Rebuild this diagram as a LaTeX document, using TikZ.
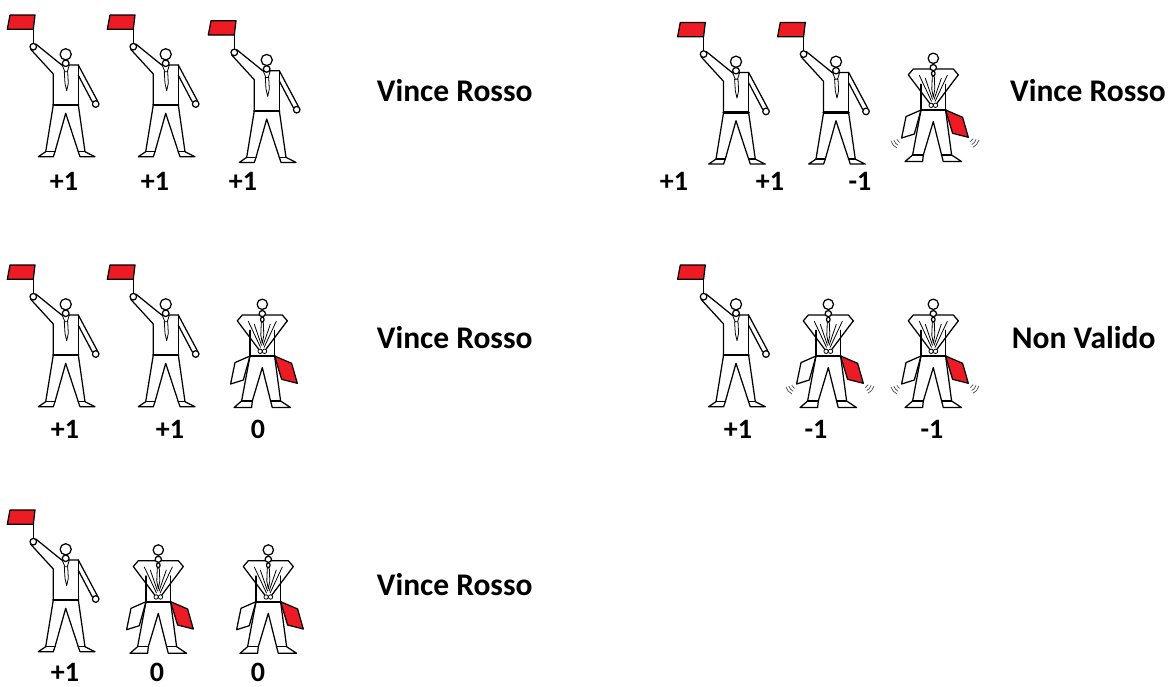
\documentclass[tikz,border=0pt]{standalone}
\usepackage{fontspec}
\setmainfont{Carlito}
\definecolor{flagred}{RGB}{237,28,36}
\tikzset{
  fig/.style={line width=1.25pt, line join=round, line cap=round},
  waist/.style={line width=2.4pt},
  thinline/.style={line width=0.8pt},
  flagup/.pic={
    \begin{scope}[fig]
    % flag
    \draw[thinline] (-32.4,-25) -- (-32.4,-11);
    \draw[fill=flagred] (-55.7,-39.3) -- (-30.7,-39.3) -- (-32.4,-25) -- (-58.4,-25) -- cycle;
    \draw[fill=white] (-32.4,-7.6) circle (3.3);
    % arms and torso
    \draw (-29.8,-10.2) -- (-4,10.7) -- (12.6,10.7) -- (31.6,46.3);
    \draw (-35,-5) -- (-12.4,19.7) -- (-12.4,50.7);
    \draw (12.6,10.7) -- (12.6,50.7);
    \draw (12.6,21) -- (26.6,47.6);
    \draw[fill=white] (30,49.7) circle (3.3);
    \draw[waist] (-12.4,50.7) -- (12.6,50.7);
    % legs and feet
    \draw (-12.4,50.7) -- (-20,97.4) -- (-27.4,102.4) -- (-12.4,102.4) -- (-10.7,97.4) -- (0,59)
          -- (12.6,97.4) -- (14.3,102.4) -- (29.3,102.4) -- (19.3,97.4) -- (12.6,50.7);
    \draw (-20,97.4) -- (-10.7,97.4);
    \draw (12.6,97.4) -- (19.3,97.4);
    % head, neck, tie
    \draw[fill=white] (0,0) circle (5.6);
    \draw[fill=white] (0,9) ellipse (3.4 and 3.2);
    \draw[thinline] (-3.6,10.7) -- (-0.8,17.4);
    \draw[thinline] (3.6,10.7) -- (1.6,17.4);
    \draw[thinline] (-1.4,17.4) -- (2,17.4) -- (2.6,29) -- (1,36.4) -- (-0.7,29) -- cycle;
    \end{scope}
  },
  flagdown/.pic={
    \begin{scope}[fig]
    % flags
    \draw[fill=white] (-27.3,58.3) -- (-12.3,51.7) -- (-19,75.7) -- (-31.7,79.7) -- cycle;
    \draw[fill=flagred] (12.3,51.7) -- (29.3,59) -- (35,79) -- (19.3,75) -- cycle;
    % shoulders and arms
    \draw (-25,16.5) -- (-20,10.7) -- (20,10.7) -- (25,16.5);
    \draw (-25,16.5) -- (-3.2,45.5);
    \draw (25,16.5) -- (3.2,45.5);
    \draw[thinline] (-14,17) -- (-1.8,43);
    \draw[thinline] (-8,20) -- (-0.8,41);
    \draw[thinline] (14,17) -- (1.8,43);
    \draw[thinline] (8,20) -- (0.8,41);
    % torso
    \draw (-12.3,26) -- (-12.3,51.7);
    \draw (12.3,26) -- (12.3,51.7);
    % tie
    \draw[thinline] (-1,18) -- (1,18) -- (1.5,31) -- (0,39) -- (-1.5,31) -- cycle;
    % hands
    \draw[thinline,fill=white] (-2.2,47) circle (2.2);
    \draw[thinline,fill=white] (2.2,47) circle (2.2);
    \draw[waist] (-12.3,51.7) -- (12.3,51.7);
    % legs and feet
    \draw (-12.3,51.7) -- (-20.7,96.7) -- (-28.3,103.3) -- (-10.7,103.3) -- (-10,96.7) -- (0,63.3)
          -- (8.3,96.7) -- (10,103.3) -- (28.3,103.3) -- (18.3,96.7) -- (12.3,51.7);
    \draw (-20.7,96.7) -- (-10,96.7);
    \draw (8.3,96.7) -- (18.3,96.7);
    % head and neck
    \draw[fill=white] (0,0) circle (5.2);
    \draw[fill=white] (0,9.3) ellipse (3.2 and 3);
    \draw[fill=white] (0,15.2) ellipse (1.8 and 2.4);
    \end{scope}
  },
  shakes/.pic={
    \begin{scope}[line width=0.7pt, black!70]
    \foreach \r in {5,8,11} {
      \draw ([shift={(115:\r)}]-31.7,79.7) arc (115:165:\r);
      \draw ([shift={(15:\r)}]35,79) arc (15:65:\r);
    }
    \end{scope}
  },
  verdict/.style={anchor=base west, inner sep=0pt, font=\fontsize{31.5}{31.5}\selectfont\bfseries},
  score/.style={anchor=base, inner sep=0pt, text depth=0pt, font=\fontsize{28}{28}\selectfont\bfseries}
}
\begin{document}
\begin{tikzpicture}[x=1pt,y=-1pt]
\useasboundingbox (0,0) rectangle (1173,686);
% row 1 left
\pic at (65.7,54.3) {flagup};
\pic at (165.7,54.3) {flagup};
\pic at (266.7,60) {flagup};
\node[score] (s11) at (64,190.7) {+1};
\node[score] (s12) at (155,190.7) {+1};
\node[score] (s13) at (243,190.7) {+1};
\node[verdict] (v1) at (376.7,101.7) {Vince Rosso};
% row 1 right
\pic at (736,61.7) {flagup};
\pic at (836,61.7) {flagup};
\pic at (933.3,58.3) {flagdown};
\pic at (933.3,58.3) {shakes};
\node[score] (s14) at (674,190.7) {+1};
\node[score] (s15) at (770,190.7) {+1};
\node[score] (s16) at (860,190.7) {-1};
\node[verdict] (v2) at (1010,101.7) {Vince Rosso};
% row 2 left
\pic at (65.7,304.3) {flagup};
\pic at (165.7,304.3) {flagup};
\pic at (262.3,304.3) {flagdown};
\node[score] (s21) at (65,438.3) {+1};
\node[score] (s22) at (170,438.3) {+1};
\node[score] (s23) at (258,438.3) {0};
\node[verdict] (v3) at (376.7,348.3) {Vince Rosso};
% row 2 right
\pic at (736,304.3) {flagup};
\pic at (828.3,304.3) {flagdown};
\pic at (828.3,304.3) {shakes};
\pic at (933.3,304.3) {flagdown};
\pic at (933.3,304.3) {shakes};
\node[score] (s24) at (738,438.3) {+1};
\node[score] (s25) at (816,438.3) {-1};
\node[score] (s26) at (932,438.3) {-1};
\node[verdict] (v4) at (1011.7,348.3) {Non Valido};
% row 3
\pic at (65.7,549.3) {flagup};
\pic at (158.3,550) {flagdown};
\pic at (268.3,550) {flagdown};
\node[score] (s31) at (65,681) {+1};
\node[score] (s32) at (157,681) {0};
\node[score] (s33) at (258,681) {0};
\node[verdict] (v5) at (376.7,595) {Vince Rosso};
\end{tikzpicture}
\end{document}
